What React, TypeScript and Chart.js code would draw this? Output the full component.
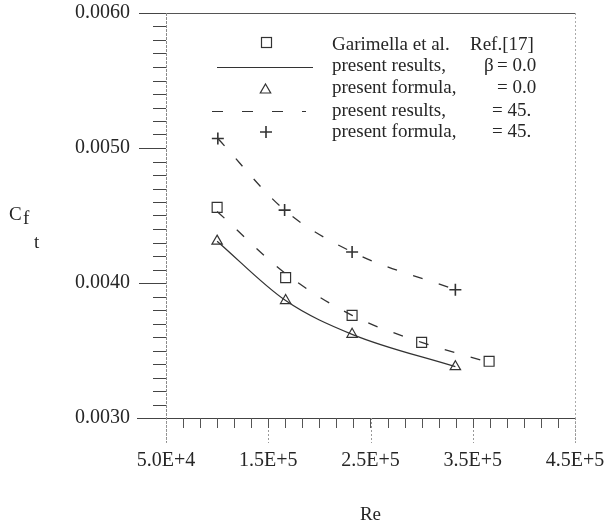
import React, { useEffect, useRef } from 'react';
import { Chart, registerables } from 'chart.js';

Chart.register(...registerables);

// ---- tick labels ----
const xTickValues = [50000, 150000, 250000, 350000, 450000];
const xTickLabels = ['5.0E+4', '1.5E+5', '2.5E+5', '3.5E+5', '4.5E+5'];
const yTickValues = [0.003, 0.004, 0.005, 0.006];
const yTickLabels = ['0.0030', '0.0040', '0.0050', '0.0060'];

// ---- series ----
// Garimella et al. Ref.[17] (squares)
const garimellaRe = [100000, 167000, 232000, 300000, 366000];
const garimellaCf = [0.00456, 0.00404, 0.00376, 0.00356, 0.00342];

// unlabeled dashed curve through the Garimella points
const lowerDashRe = [100000, 167000, 232000, 300000, 362000];
const lowerDashCf = [0.00453, 0.00407, 0.00376, 0.00356, 0.00342];

// beta = 0.0
const beta0Re = [100000, 167000, 232000, 333000];
const beta0ResultsCf = [0.00431, 0.00387, 0.00362, 0.00338];
const beta0FormulaCf = [0.00431, 0.00387, 0.00362, 0.00338];

// beta = 45
const beta45Re = [100700, 166000, 232000, 333000];
const beta45ResultsCf = [0.00507, 0.00454, 0.00423, 0.00395];
const beta45FormulaCf = [0.00507, 0.00454, 0.00423, 0.00395];

const FONT = '"Liberation Serif", "Times New Roman", serif';
const INK = '#262626';

const pts = (xs: number[], ys: number[]) => xs.map((x, i) => ({ x, y: ys[i] }));

const zeroPad = (s: any) => {
  s.paddingTop = 0;
  s.paddingBottom = 0;
  s.paddingLeft = 0;
  s.paddingRight = 0;
};

const framePlugin = {
  id: 'frame',
  afterDraw(chart: any) {
    const { ctx, chartArea, scales } = chart;
    const { left, right, top, bottom } = chartArea;
    const xs = scales.x;
    const ys = scales.y;
    ctx.save();

    // top border
    ctx.strokeStyle = '#555';
    ctx.lineWidth = 1;
    ctx.beginPath();
    ctx.moveTo(left - 27, top + 0.5);
    ctx.lineTo(right, top + 0.5);
    ctx.stroke();

    // x axis
    ctx.strokeStyle = '#444';
    ctx.beginPath();
    ctx.moveTo(left - 29, bottom + 0.5);
    ctx.lineTo(right, bottom + 0.5);
    ctx.stroke();

    // y axis line (light, slightly broken)
    ctx.strokeStyle = '#8a8a8a';
    ctx.setLineDash([3, 1]);
    ctx.beginPath();
    ctx.moveTo(left + 0.5, top);
    ctx.lineTo(left + 0.5, bottom + 25);
    ctx.stroke();

    // right border (dotted)
    ctx.strokeStyle = '#aaa';
    ctx.setLineDash([2, 2]);
    ctx.beginPath();
    ctx.moveTo(right + 0.5, top);
    ctx.lineTo(right + 0.5, bottom + 25);
    ctx.stroke();

    // x major tick extensions (dotted)
    ctx.strokeStyle = '#999';
    xTickValues.forEach((v) => {
      const px = Math.round(xs.getPixelForValue(v)) + 0.5;
      ctx.beginPath();
      ctx.moveTo(px, bottom);
      ctx.lineTo(px, bottom + 25);
      ctx.stroke();
    });
    ctx.setLineDash([]);

    // x minor ticks
    ctx.strokeStyle = '#555';
    const xMinorStep = (xTickValues[1] - xTickValues[0]) / 6;
    for (let v = xs.min + xMinorStep; v < xs.max - 1; v += xMinorStep) {
      const px = Math.round(xs.getPixelForValue(v)) + 0.5;
      ctx.beginPath();
      ctx.moveTo(px, bottom);
      ctx.lineTo(px, bottom + 10);
      ctx.stroke();
    }

    // y major ticks
    ctx.strokeStyle = '#444';
    yTickValues.forEach((v) => {
      const py = Math.round(ys.getPixelForValue(v)) + 0.5;
      ctx.beginPath();
      ctx.moveTo(left - 27, py);
      ctx.lineTo(left, py);
      ctx.stroke();
    });
    // y minor ticks
    const yMinorStep = (yTickValues[1] - yTickValues[0]) / 10;
    for (let i = 1; i < 30; i++) {
      if (i % 10 === 0) continue;
      const v = ys.min + i * yMinorStep;
      const py = Math.round(ys.getPixelForValue(v)) + 0.5;
      ctx.beginPath();
      ctx.moveTo(left - 13, py);
      ctx.lineTo(left, py);
      ctx.stroke();
    }

    // y axis title: C f t
    ctx.fillStyle = INK;
    ctx.textBaseline = 'alphabetic';
    ctx.textAlign = 'left';
    ctx.font = `19px ${FONT}`;
    ctx.fillText('C', 9, 220);
    ctx.fillText('f', 23, 224);
    ctx.fillText('t', 34, 248);

    // legend
    const sx = left + 100;
    const tx = left + 166;
    const rows = [50, 71, 93, 116, 137].map((b) => top + b - 13);
    ctx.strokeStyle = '#333';
    ctx.lineWidth = 1.2;
    // square
    ctx.strokeRect(sx - 4.5, rows[0] - 12.5, 10, 10);
    // solid line
    ctx.beginPath();
    ctx.moveTo(left + 51, rows[1] - 3.5);
    ctx.lineTo(left + 147, rows[1] - 3.5);
    ctx.stroke();
    // triangle
    ctx.beginPath();
    const tcy = rows[2] - 3;
    ctx.moveTo(sx - 0.5, tcy - 6);
    ctx.lineTo(sx + 4.7, tcy + 3);
    ctx.lineTo(sx - 5.7, tcy + 3);
    ctx.closePath();
    ctx.stroke();
    // dashed line
    ctx.setLineDash([11, 19]);
    ctx.beginPath();
    ctx.moveTo(left + 46, rows[3] - 4.5);
    ctx.lineTo(left + 140, rows[3] - 4.5);
    ctx.stroke();
    ctx.setLineDash([]);
    // plus
    ctx.lineWidth = 1.6;
    ctx.beginPath();
    ctx.moveTo(sx - 6, rows[4] - 5);
    ctx.lineTo(sx + 6, rows[4] - 5);
    ctx.moveTo(sx, rows[4] - 11);
    ctx.lineTo(sx, rows[4] + 1);
    ctx.stroke();

    ctx.fillStyle = INK;
    ctx.font = `19px ${FONT}`;
    ctx.fillText('Garimella et al.', tx, rows[0]);
    ctx.fillText('Ref.[17]', left + 304, rows[0]);
    ctx.fillText('present results,', tx, rows[1]);
    ctx.fillText('\u03b2', left + 318, rows[1]);
    ctx.fillText('= 0.0', left + 331, rows[1]);
    ctx.fillText('present formula,', tx, rows[2]);
    ctx.fillText('= 0.0', left + 331, rows[2]);
    ctx.fillText('present results,', tx, rows[3]);
    ctx.fillText('= 45.', left + 326, rows[3]);
    ctx.fillText('present formula,', tx, rows[4]);
    ctx.fillText('= 45.', left + 326, rows[4]);

    ctx.restore();
  },
};

export default function App() {
  const canvasRef = useRef<HTMLCanvasElement | null>(null);

  useEffect(() => {
    document.body.style.margin = '0';
    const canvas = canvasRef.current;
    if (!canvas) return;
    const lineColor = '#333';
    const chart = new Chart(canvas, {
      type: 'scatter',
      data: {
        datasets: [
          {
            label: 'lower dashed',
            data: pts(lowerDashRe, lowerDashCf),
            showLine: true,
            borderColor: lineColor,
            borderWidth: 1.3,
            borderDash: [10, 17],
            pointRadius: 0,
            cubicInterpolationMode: 'monotone',
          },
          {
            label: 'present results, beta = 0.0',
            data: pts(beta0Re, beta0ResultsCf),
            showLine: true,
            borderColor: lineColor,
            borderWidth: 1.3,
            pointRadius: 0,
            cubicInterpolationMode: 'monotone',
          },
          {
            label: 'present results, = 45.',
            data: pts(beta45Re, beta45ResultsCf),
            showLine: true,
            borderColor: lineColor,
            borderWidth: 1.3,
            borderDash: [10, 17],
            pointRadius: 0,
            cubicInterpolationMode: 'monotone',
          },
          {
            label: 'Garimella et al. Ref.[17]',
            data: pts(garimellaRe, garimellaCf),
            pointStyle: 'rect',
            pointRadius: 7,
            pointBorderWidth: 1.2,
            pointBorderColor: lineColor,
            pointBackgroundColor: 'rgba(0,0,0,0)',
          },
          {
            label: 'present formula, = 0.0',
            data: pts(beta0Re, beta0FormulaCf),
            pointStyle: 'triangle',
            pointRadius: 6,
            pointBorderWidth: 1.2,
            pointBorderColor: lineColor,
            pointBackgroundColor: 'rgba(0,0,0,0)',
          },
          {
            label: 'present formula, = 45.',
            data: pts(beta45Re, beta45FormulaCf),
            pointStyle: 'cross',
            pointRadius: 6,
            pointBorderWidth: 1.6,
            pointBorderColor: lineColor,
            pointBackgroundColor: 'rgba(0,0,0,0)',
          },
        ],
      },
      options: {
        animation: false,
        responsive: false,
        devicePixelRatio: 1,
        layout: { autoPadding: false, padding: { top: 13, right: 38, left: 0, bottom: 0 } },
        plugins: { legend: { display: false }, tooltip: { enabled: false } },
        scales: {
          x: {
            type: 'linear',
            min: xTickValues[0],
            max: xTickValues[xTickValues.length - 1],
            grid: { display: false },
            border: { display: false },
            afterBuildTicks: (s: any) => {
              s.ticks = xTickValues.map((v) => ({ value: v }));
            },
            afterFit: (s: any) => {
              s.height = 103;
              zeroPad(s);
            },
            ticks: {
              autoSkip: false,
              maxRotation: 0,
              padding: 23,
              color: INK,
              font: { family: FONT, size: 20 },
              callback: (v: any) => {
                const i = xTickValues.indexOf(v);
                return i >= 0 ? xTickLabels[i] : '';
              },
            },
            title: {
              display: true,
              text: 'Re',
              color: INK,
              font: { family: FONT, size: 19 },
              padding: { top: 0, bottom: -5 },
            },
          },
          y: {
            type: 'linear',
            min: yTickValues[0],
            max: yTickValues[yTickValues.length - 1],
            grid: { display: false },
            border: { display: false },
            afterBuildTicks: (s: any) => {
              s.ticks = yTickValues.map((v) => ({ value: v }));
            },
            afterFit: (s: any) => {
              s.width = 166;
              zeroPad(s);
            },
            ticks: {
              autoSkip: false,
              padding: 28,
              color: INK,
              font: { family: FONT, size: 20 },
              callback: (v: any) => {
                const i = yTickValues.indexOf(v);
                return i >= 0 ? yTickLabels[i] : '';
              },
            },
          },
        },
      },
      plugins: [framePlugin],
    } as any);
    return () => chart.destroy();
  }, []);

  return (
    <div style={{ width: 613, height: 521, background: '#fff' }}>
      <canvas ref={canvasRef} width={613} height={521} style={{ display: 'block' }} />
    </div>
  );
}
